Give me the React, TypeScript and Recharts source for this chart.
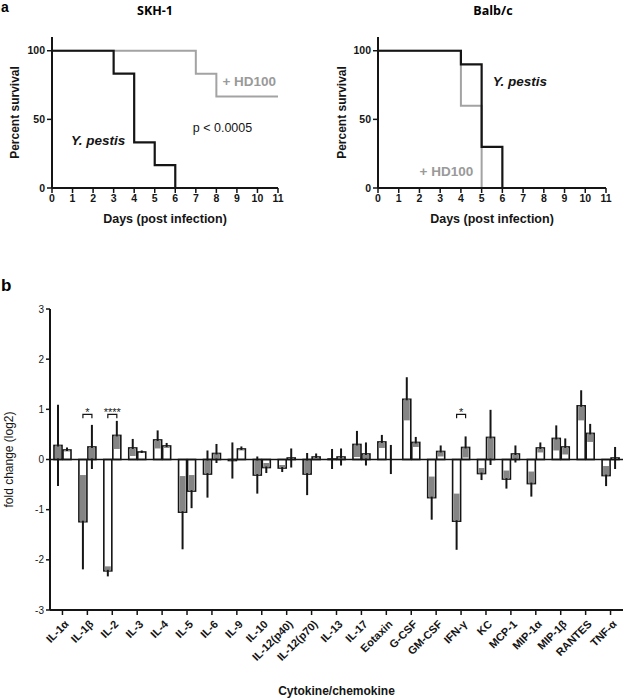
import React from 'react';
import {
  LineChart,
  Line,
  XAxis,
  YAxis,
  BarChart,
  Bar,
  ReferenceLine,
  ReferenceDot,
  Label,
} from 'recharts';

const FONT = '"Liberation Sans", Arial, sans-serif';
const TITLE_FONT = '"Open Sans", "Liberation Sans", Arial, sans-serif';
const INK = '#151515';
const GREY = '#a3a3a3';

// panel a - survival (percent) at the days where it changes
const dayTicks = [0, 1, 2, 3, 4, 5, 6, 7, 8, 9, 10, 11];
const survTicks = [0, 50, 100];

const skhPestisDays = [0, 3, 4, 5, 6];
const skhPestis = [100, 83.3, 33.3, 16.7, 0];
const skhHdDays = [0, 7, 8, 11];
const skhHd = [100, 83.3, 66.7, 66.7];

const balbPestisDays = [0, 4, 5, 6];
const balbPestis = [100, 90, 30, 0];
const balbHdDays = [0, 4, 5];
const balbHd = [100, 60, 0];

// panel b - fold change (log2), mean and sd per group
const cytokines = [
  'IL-1α', 'IL-1β', 'IL-2', 'IL-3', 'IL-4', 'IL-5', 'IL-6', 'IL-9', 'IL-10',
  'IL-12(p40)', 'IL-12(p70)', 'IL-13', 'IL-17', 'Eotaxin', 'G-CSF', 'GM-CSF',
  'IFN-γ', 'KC', 'MCP-1', 'MIP-1α', 'MIP-1β', 'RANTES', 'TNF-α',
];
const mean1 = [0.28, -1.24, -2.22, 0.23, 0.39, -1.05, -0.29, -0.02, -0.31, -0.17, -0.29, 0.01, 0.3, 0.35, 1.2, -0.76, -1.23, -0.28, -0.39, -0.48, 0.42, 1.07, -0.32];
const sd1 = [0.79, 0.93, 0.09, 0.16, 0.17, 0.72, 0.45, 0.34, 0.35, 0.06, 0.4, 0.18, 0.25, 0.12, 0.42, 0.42, 0.55, 0.11, 0.17, 0.24, 0.24, 0.29, 0.19];
const mean2 = [0.19, 0.25, 0.48, 0.15, 0.27, -0.63, 0.12, 0.21, -0.16, 0.03, 0.05, 0.05, 0.11, 0.0, 0.34, 0.16, 0.24, 0.44, 0.11, 0.23, 0.25, 0.52, 0.03];
const sd2 = [0.03, 0.42, 0.27, 0.01, 0.04, 0.32, 0.17, 0.03, 0.09, 0.17, 0.05, 0.15, 0.21, 0.27, 0.09, 0.1, 0.2, 0.53, 0.15, 0.09, 0.15, 0.17, 0.2];
const signif = ['', '*', '****', '', '', '', '', '', '', '', '', '', '', '', '', '', '*', '', '', '', '', '', ''];
const foldTicks = [-3, -2, -1, 0, 1, 2, 3];

const B_MIN = -3;
const B_MAX = 3;
const B_PLOT_H = 301;
const SIG_Y = 0.9;

const toPoints = (days: number[], vals: number[]) => days.map((d, i) => ({ day: d, pct: vals[i] }));

const cytoData = cytokines.map((name, i) => ({
  name,
  m1: mean1[i],
  s1: sd1[i],
  m2: mean2[i],
  s2: sd2[i],
  sig: signif[i],
}));

const boldTick = { fill: INK, fontSize: 10.5, fontWeight: 700, fontFamily: FONT };

type PanelProps = {
  width: number;
  yWidth: number;
  rightMargin: number;
  labelOffset: number;
  pestis: { day: number; pct: number }[];
  hd: { day: number; pct: number }[];
  notes: React.ReactNode;
};

const SurvivalChart = ({ width, yWidth, rightMargin, labelOffset, pestis, hd, notes }: PanelProps) => (
  <LineChart width={width} height={230} margin={{ top: 37, right: rightMargin, left: 0, bottom: 0 }}>
    <XAxis
      type="number"
      dataKey="day"
      domain={[0, 11]}
      ticks={dayTicks}
      interval={0}
      height={42}
      tick={boldTick}
      tickSize={5}
      tickLine={{ stroke: INK, strokeWidth: 1.5 }}
      axisLine={{ stroke: INK, strokeWidth: 2 }}
    >
      <Label
        value="Days (post infection)"
        position="insideBottom"
        offset={7}
        fill={INK}
        fontSize={12.5}
        fontWeight={700}
        fontFamily={FONT}
      />
    </XAxis>
    <YAxis
      type="number"
      domain={[0, 110]}
      ticks={survTicks}
      width={yWidth}
      tick={boldTick}
      tickSize={5}
      tickLine={{ stroke: INK, strokeWidth: 1.5 }}
      axisLine={{ stroke: INK, strokeWidth: 2 }}
    >
      <Label
        value="Percent survival"
        angle={-90}
        position="insideLeft"
        offset={labelOffset}
        style={{ textAnchor: 'middle' }}
        fill={INK}
        fontSize={12}
        fontWeight={700}
        fontFamily={FONT}
      />
    </YAxis>
    <Line data={hd} dataKey="pct" type="stepAfter" stroke={GREY} strokeWidth={2} dot={false} isAnimationActive={false} />
    <Line data={pestis} dataKey="pct" type="stepAfter" stroke={INK} strokeWidth={2.2} dot={false} isAnimationActive={false} />
    {notes}
  </LineChart>
);

const note = (x: number, y: number, text: string, style: Record<string, any>) => (
  <ReferenceDot
    key={text}
    x={x}
    y={y}
    r={0}
    fill="none"
    stroke="none"
    label={{ value: text, position: 'center', fontFamily: FONT, ...style }}
  />
);

const ErrBarShape = (props: any) => {
  const { x, width, payload, background, mKey, sKey, first } = props;
  const mean = payload[mKey];
  const sd = payload[sKey];
  const k = background && background.height ? background.height / (B_MAX - B_MIN) : B_PLOT_H / (B_MAX - B_MIN);
  const plotTop = background && background.height ? background.y : props.y;
  const zeroY = plotTop + B_MAX * k;
  const meanY = zeroY - mean * k;
  const top = Math.min(zeroY, meanY);
  const bot = Math.max(zeroY, meanY);
  const hiY = meanY - sd * k;
  const loY = meanY + sd * k;
  const cx = x + width / 2;
  const bandTop = Math.max(hiY, top);
  const bandBot = Math.min(loY, bot);
  const parts: React.ReactNode[] = [];
  parts.push(<rect key="r" x={x} y={top} width={width} height={bot - top} fill="#fff" stroke={INK} strokeWidth={1.6} />);
  if (bandBot > bandTop) {
    parts.push(<rect key="g" x={x + 1} y={bandTop} width={width - 2} height={bandBot - bandTop} fill="#858585" />);
  }
  if (hiY < top) {
    parts.push(<line key="u" x1={cx} x2={cx} y1={hiY} y2={top} stroke={INK} strokeWidth={2} strokeLinecap="square" />);
  }
  if (loY > bot) {
    parts.push(<line key="d" x1={cx} x2={cx} y1={bot} y2={loY} stroke={INK} strokeWidth={2} strokeLinecap="square" />);
  }
  if (first && payload.sig) {
    const x2 = cx + width + 1;
    const by = zeroY - SIG_Y * k;
    const legY = zeroY - (SIG_Y - 0.08) * k;
    parts.push(
      <path key="b" d={`M${cx},${legY} L${cx},${by} L${x2},${by} L${x2},${legY}`} fill="none" stroke={INK} strokeWidth={1.2} />,
    );
    parts.push(
      <text key="t" x={(cx + x2) / 2} y={by + 1.5} textAnchor="middle" fontSize={11} fontFamily={FONT} fill={INK}>
        {payload.sig}
      </text>,
    );
  }
  return <g>{parts}</g>;
};

const CatTick = (props: any) => {
  const { x, y, payload } = props;
  return (
    <g transform={`translate(${x + 4},${y + 5})`}>
      <text transform="rotate(-45)" textAnchor="end" dy={4} fontSize={11} fontWeight={700} fontFamily={FONT} fill={INK}>
        {payload.value}
      </text>
    </g>
  );
};

const App = () => {
  return (
    <div style={{ position: 'absolute', left: 0, top: 0, width: 623, height: 698, background: '#fff' }}>
      <div style={{ position: 'absolute', left: 1, top: 0, fontFamily: FONT, fontWeight: 700, fontSize: 14, lineHeight: '14px' }}>a</div>
      <div style={{ position: 'absolute', left: 1, top: 277, fontFamily: FONT, fontWeight: 700, fontSize: 17, lineHeight: '17px' }}>b</div>
      <div style={{ position: 'absolute', left: 105, top: 2, width: 100, textAlign: 'center', fontFamily: TITLE_FONT, fontWeight: 700, fontSize: 12.5 }}>
        SKH-1
      </div>
      <div style={{ position: 'absolute', left: 443, top: 2, width: 100, textAlign: 'center', fontFamily: TITLE_FONT, fontWeight: 700, fontSize: 12.5 }}>
        Balb/c
      </div>

      <div style={{ position: 'absolute', left: 0, top: 0 }}>
        <SurvivalChart
          width={300}
          yWidth={52}
          rightMargin={22}
          labelOffset={15}
          pestis={toPoints(skhPestisDays, skhPestis)}
          hd={toPoints(skhHdDays, skhHd)}
          notes={[
            note(9.6, 78, '+ HD100', { fill: '#9a9a9a', fontSize: 13.5, fontWeight: 700 }),
            note(2.25, 35, 'Y. pestis', { fill: INK, fontSize: 13.5, fontWeight: 700, fontStyle: 'italic' }),
            note(8.3, 44, 'p < 0.0005', { fill: INK, fontSize: 12.5 }),
          ]}
        />
      </div>

      <div style={{ position: 'absolute', left: 300, top: 0 }}>
        <SurvivalChart
          width={323}
          yWidth={78}
          rightMargin={17}
          labelOffset={42}
          pestis={toPoints(balbPestisDays, balbPestis)}
          hd={toPoints(balbHdDays, balbHd)}
          notes={[
            note(6.85, 78, 'Y. pestis', { fill: INK, fontSize: 13.5, fontWeight: 700, fontStyle: 'italic' }),
            note(3.3, 12, '+ HD100', { fill: '#9a9a9a', fontSize: 13.5, fontWeight: 700 }),
          ]}
        />
      </div>

      <div style={{ position: 'absolute', left: 0, top: 260 }}>
        <BarChart
          width={623}
          height={438}
          data={cytoData}
          margin={{ top: 49, right: 0, left: 0, bottom: 0 }}
          barSize={8}
          barGap={1}
        >
          <XAxis
            dataKey="name"
            type="category"
            height={88}
            interval={0}
            tick={<CatTick />}
            tickSize={5}
            tickLine={{ stroke: INK, strokeWidth: 1.5 }}
            axisLine={{ stroke: INK, strokeWidth: 2 }}
          >
            <Label
              value="Cytokine/chemokine"
              position="insideBottom"
              offset={3}
              fill={INK}
              fontSize={12}
              fontWeight={700}
              fontFamily={FONT}
            />
          </XAxis>
          <YAxis
            type="number"
            domain={[B_MIN, B_MAX]}
            ticks={foldTicks}
            width={50}
            allowDataOverflow
            tick={{ fill: INK, fontSize: 10, fontFamily: FONT }}
            tickSize={4}
            tickLine={{ stroke: INK, strokeWidth: 1.5 }}
            axisLine={{ stroke: INK, strokeWidth: 2 }}
          >
            <Label
              value="fold change (log2)"
              angle={-90}
              position="insideLeft"
              offset={9}
              style={{ textAnchor: 'middle' }}
              fill={INK}
              fontSize={12}
              fontFamily={FONT}
            />
          </YAxis>
          <ReferenceLine y={0} stroke={INK} strokeWidth={1.5} />
          <Bar
            dataKey="m1"
            isAnimationActive={false}
            shape={(p: any) => <ErrBarShape {...p} mKey="m1" sKey="s1" first />}
          />
          <Bar
            dataKey="m2"
            isAnimationActive={false}
            shape={(p: any) => <ErrBarShape {...p} mKey="m2" sKey="s2" />}
          />
        </BarChart>
      </div>
    </div>
  );
};

export default App;
